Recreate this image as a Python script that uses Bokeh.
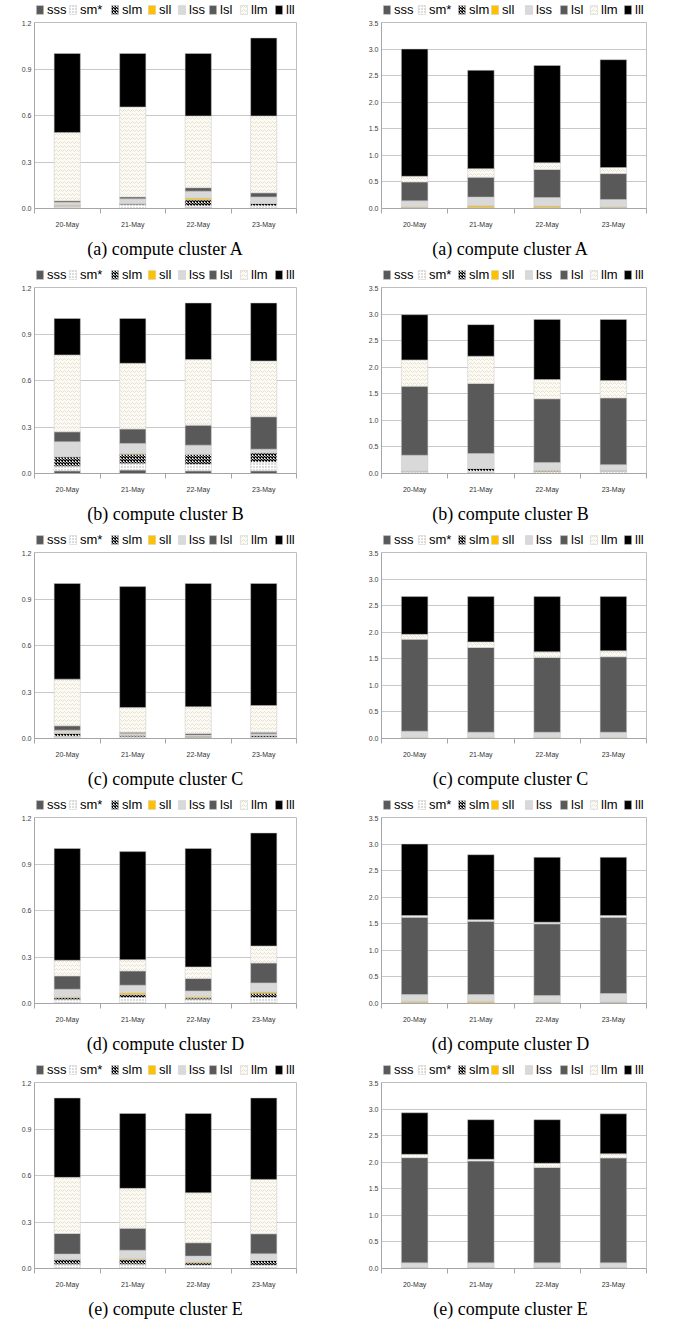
from bokeh.plotting import figure
from bokeh.layouts import column, row
from bokeh.models import (Range1d, FixedTicker, Legend, LegendItem, Label,
                          NumeralTickFormatter, ColumnDataSource)
from bokeh.core.properties import value
from bokeh.embed import file_html
from bokeh.resources import INLINE

dates = ["20-May", "21-May", "22-May", "23-May"]
series = ["sss", "sm*", "slm", "sll", "lss", "lsl", "llm", "lll"]
left_ticks = [0.0, 0.3, 0.6, 0.9, 1.2]
right_ticks = [0.0, 0.5, 1.0, 1.5, 2.0, 2.5, 3.0, 3.5]
captions = ["(a) compute cluster A", "(b) compute cluster B", "(c) compute cluster C",
            "(d) compute cluster D", "(e) compute cluster E"]

# rows follow `series` (sss, sm*, slm, sll, lss, lsl, llm, lll); columns follow `dates`
cluster_a_left = [
    [0.005, 0.000, 0.006, 0.000],
    [0.010, 0.025, 0.011, 0.017],
    [0.005, 0.005, 0.039, 0.015],
    [0.003, 0.003, 0.011, 0.000],
    [0.017, 0.030, 0.045, 0.043],
    [0.010, 0.012, 0.022, 0.026],
    [0.440, 0.580, 0.463, 0.496],
    [0.510, 0.345, 0.403, 0.503],
]
cluster_a_right = [
    [0.000, 0.000, 0.000, 0.000],
    [0.015, 0.020, 0.020, 0.015],
    [0.005, 0.005, 0.005, 0.005],
    [0.010, 0.030, 0.025, 0.010],
    [0.114, 0.160, 0.156, 0.140],
    [0.356, 0.375, 0.530, 0.487],
    [0.106, 0.160, 0.125, 0.113],
    [2.394, 1.850, 1.830, 2.030],
]
cluster_b_left = [
    [0.017, 0.022, 0.017, 0.017],
    [0.030, 0.043, 0.043, 0.058],
    [0.061, 0.060, 0.065, 0.059],
    [0.000, 0.004, 0.000, 0.000],
    [0.097, 0.065, 0.058, 0.023],
    [0.064, 0.093, 0.129, 0.209],
    [0.496, 0.424, 0.423, 0.360],
    [0.235, 0.289, 0.365, 0.374],
]
cluster_b_right = [
    [0.000, 0.020, 0.000, 0.000],
    [0.030, 0.025, 0.035, 0.040],
    [0.014, 0.050, 0.010, 0.015],
    [0.000, 0.000, 0.015, 0.005],
    [0.300, 0.281, 0.146, 0.107],
    [1.300, 1.319, 1.200, 1.256],
    [0.494, 0.512, 0.363, 0.325],
    [0.850, 0.594, 1.131, 1.150],
]
cluster_c_left = [
    [0.005, 0.003, 0.003, 0.003],
    [0.010, 0.008, 0.005, 0.006],
    [0.017, 0.010, 0.007, 0.010],
    [0.003, 0.001, 0.001, 0.001],
    [0.019, 0.010, 0.006, 0.010],
    [0.028, 0.009, 0.010, 0.011],
    [0.301, 0.159, 0.173, 0.172],
    [0.617, 0.780, 0.795, 0.787],
]
cluster_c_right = [
    [0.000, 0.000, 0.000, 0.000],
    [0.008, 0.008, 0.008, 0.008],
    [0.002, 0.002, 0.002, 0.002],
    [0.010, 0.010, 0.010, 0.010],
    [0.117, 0.098, 0.098, 0.098],
    [1.731, 1.594, 1.407, 1.420],
    [0.092, 0.106, 0.106, 0.112],
    [0.711, 0.852, 1.039, 1.020],
]
cluster_d_left = [
    [0.004, 0.004, 0.004, 0.004],
    [0.022, 0.035, 0.022, 0.035],
    [0.013, 0.019, 0.010, 0.027],
    [0.004, 0.011, 0.007, 0.009],
    [0.049, 0.049, 0.038, 0.058],
    [0.086, 0.092, 0.080, 0.128],
    [0.101, 0.073, 0.075, 0.110],
    [0.721, 0.697, 0.764, 0.729],
]
cluster_d_right = [
    [0.000, 0.000, 0.000, 0.000],
    [0.020, 0.015, 0.020, 0.020],
    [0.004, 0.004, 0.003, 0.003],
    [0.020, 0.025, 0.007, 0.007],
    [0.125, 0.125, 0.120, 0.158],
    [1.456, 1.381, 1.350, 1.437],
    [0.030, 0.025, 0.030, 0.031],
    [1.345, 1.225, 1.220, 1.094],
]
cluster_e_left = [
    [0.004, 0.004, 0.004, 0.004],
    [0.024, 0.024, 0.018, 0.018],
    [0.032, 0.030, 0.015, 0.030],
    [0.000, 0.007, 0.006, 0.000],
    [0.033, 0.053, 0.037, 0.043],
    [0.133, 0.141, 0.086, 0.129],
    [0.362, 0.258, 0.323, 0.351],
    [0.512, 0.483, 0.511, 0.525],
]
cluster_e_right = [
    [0.000, 0.000, 0.000, 0.000],
    [0.010, 0.010, 0.010, 0.010],
    [0.002, 0.002, 0.002, 0.002],
    [0.008, 0.008, 0.008, 0.008],
    [0.086, 0.086, 0.086, 0.086],
    [1.980, 1.918, 1.794, 1.974],
    [0.062, 0.031, 0.080, 0.080],
    [0.782, 0.745, 0.820, 0.750],
]

# styles per series
fills = ["#595959", "#ffffff", "#ffffff", "#ffc000", "#d9d9d9", "#595959", "#fcfaf4", "#000000"]
patterns = [None, "dot", "diagonal_cross", None, None, None, "horizontal_wave", None]
hcolors = ["#000000", "#a6a6a6", "#000000", "#000000", "#000000", "#000000", "#d9cfb6", "#000000"]
hscales = [6, 3, 3, 6, 6, 6, 4, 6]
hweights = [1, 1, 1.3, 1, 1, 1, 0.6, 1]

# legend entry offsets (pixels from the tile's left edge; kept inside the plot frame span)
LEG_X_LEFT = [35, 68, 110, 147, 177, 208, 239, 274]
LEG_X_RIGHT = [44, 79, 119, 152, 186, 221, 251, 285]

SANS = "Liberation Sans"
SERIF = "Liberation Serif"
AXIS_GREY = "#a6a6a6"
FRAME_H = 186
TILE_W = 338


def stack_bars(p, src):
    return p.vbar_stack(series, x="x", width=0.4, source=src,
                        fill_color=fills, hatch_pattern=patterns, hatch_color=hcolors,
                        hatch_scale=hscales, hatch_weight=hweights,
                        line_color="#c8c8c8", line_width=0.5)


def blank_fig(height, bl, br, ymin=0, ymax=1):
    f = figure(width=TILE_W, height=height, x_range=Range1d(0, len(dates)),
               y_range=Range1d(ymin, ymax), x_axis_type=None, y_axis_type=None,
               output_backend="svg", toolbar_location=None,
               min_border_left=bl, min_border_right=br, min_border_top=0, min_border_bottom=0,
               outline_line_color=None, background_fill_color="white",
               border_fill_color="white")
    f.grid.visible = False
    return f


def make_tile(table, ymax, ticks, caption, left_col, last_row):
    centers = [i + 0.5 for i in range(len(dates))]
    data = {"x": centers}
    for name, vals in zip(series, table):
        data[name] = vals
    src = ColumnDataSource(data)

    bl = 34 if left_col else 43
    br = 42 if left_col else 30

    # legend strip (bars drawn here sit outside its visible range; they only feed the legend)
    leg_fig = blank_fig(20, bl, br, ymin=100, ymax=101)
    rs = stack_bars(leg_fig, src)
    xs = LEG_X_LEFT if left_col else LEG_X_RIGHT
    for s, r, x0 in zip(series, rs, xs):
        lg = Legend(items=[LegendItem(label=value(s), renderers=[r])],
                    orientation="horizontal", location=(x0 - bl, 3),
                    glyph_width=9, glyph_height=11, label_standoff=3, spacing=0,
                    padding=0, margin=0, label_height=12,
                    label_text_font=SANS, label_text_font_size="13px",
                    label_text_color="#000000",
                    border_line_color=None, background_fill_alpha=0)
        leg_fig.add_layout(lg, "center")

    p = figure(width=TILE_W, height=212,
               x_range=Range1d(0, len(dates)), y_range=Range1d(0, ymax),
               output_backend="svg", toolbar_location=None,
               min_border_left=bl, min_border_right=br,
               min_border_top=2, min_border_bottom=212 - 2 - FRAME_H,
               background_fill_color="white", border_fill_color="white",
               outline_line_color="#bfbfbf")
    stack_bars(p, src)

    xa = p.xaxis[0]
    xa.ticker = FixedTicker(ticks=centers, minor_ticks=list(range(len(dates) + 1)))
    xa.major_label_overrides = {c: d for c, d in zip(centers, dates)}
    xa.major_tick_line_color = None
    xa.major_tick_out = 0
    xa.major_tick_in = 0
    xa.minor_tick_in = 0
    xa.minor_tick_out = 5
    xa.minor_tick_line_color = AXIS_GREY
    xa.axis_line_color = AXIS_GREY
    xa.major_label_standoff = 7
    xa.major_label_text_font = SANS
    xa.major_label_text_font_size = "7px"
    xa.major_label_text_color = "#333333"

    ya = p.yaxis[0]
    ya.ticker = FixedTicker(ticks=ticks)
    ya.formatter = NumeralTickFormatter(format="0.0")
    ya.major_tick_line_color = None
    ya.minor_tick_line_color = None
    ya.major_tick_out = 0
    ya.major_tick_in = 0
    ya.axis_line_color = AXIS_GREY
    ya.major_label_standoff = 3
    ya.major_label_text_font = SANS
    ya.major_label_text_font_size = "7px"
    ya.major_label_text_color = "#404040"

    p.xgrid.visible = False
    p.ygrid.grid_line_color = "#c8c8c8"

    cap_h = 31 if last_row else 33
    cap_fig = blank_fig(cap_h, bl, br)
    cap_center = 165 if left_col else 172
    cap = Label(x=cap_center - bl, y=cap_h - 16, x_units="screen", y_units="screen",
                text=caption, text_align="center", text_baseline="middle",
                text_font=SERIF, text_font_size="18px", text_color="#000000")
    cap_fig.add_layout(cap, "center")

    return column(leg_fig, p, cap_fig, spacing=0)


tables = [(cluster_a_left, cluster_a_right), (cluster_b_left, cluster_b_right),
          (cluster_c_left, cluster_c_right), (cluster_d_left, cluster_d_right),
          (cluster_e_left, cluster_e_right)]

rows = []
for i, (tl, tr) in enumerate(tables):
    last = i == len(tables) - 1
    rows.append(row(make_tile(tl, 1.2, left_ticks, captions[i], True, last),
                    make_tile(tr, 3.5, right_ticks, captions[i], False, last), spacing=0))

page = column(*rows, spacing=0)
open("out.html", "w").write(file_html(page, INLINE))
